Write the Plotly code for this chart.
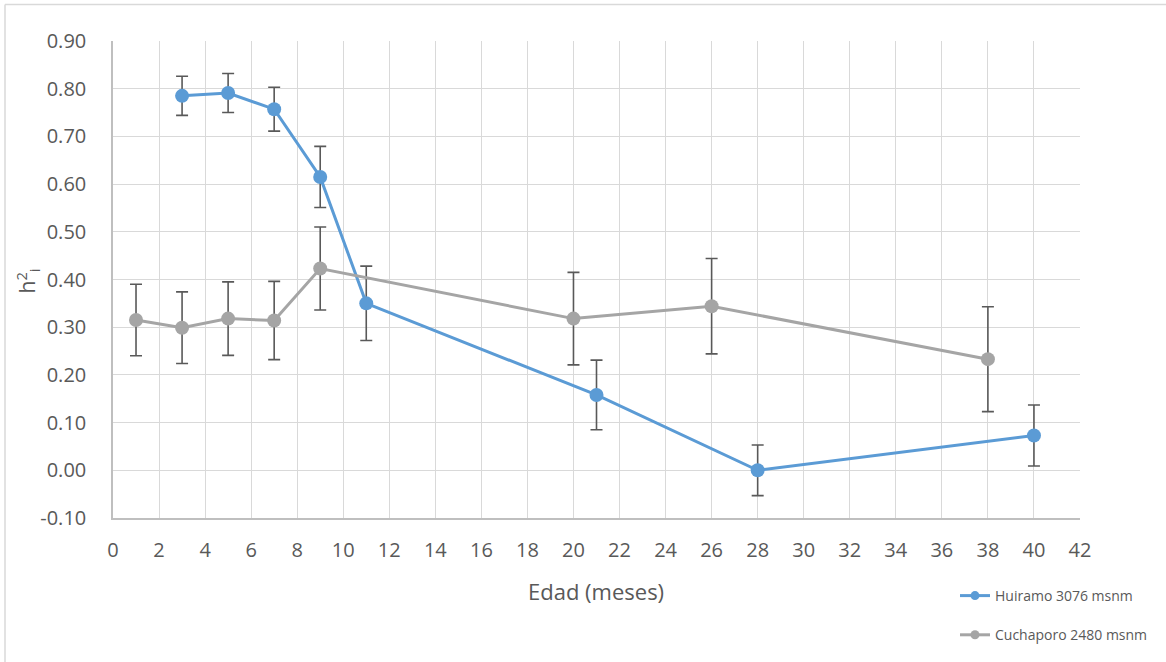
import plotly.graph_objects as go

# Data
huiramo_x = [3, 5, 7, 9, 11, 21, 28, 40]
huiramo_y = [0.785, 0.791, 0.757, 0.615, 0.350, 0.158, 0.000, 0.073]
huiramo_err = [0.041, 0.041, 0.046, 0.064, 0.078, 0.073, 0.053, 0.064]

cucha_x = [1, 3, 5, 7, 9, 20, 26, 38]
cucha_y = [0.315, 0.299, 0.318, 0.314, 0.423, 0.318, 0.344, 0.233]
cucha_err = [0.075, 0.075, 0.077, 0.082, 0.087, 0.097, 0.100, 0.110]

x_ticks = list(range(0, 43, 2))
y_ticks = [round(-0.1 + 0.1 * i, 2) for i in range(11)]
y_ticktext = ["%.2f" % v for v in y_ticks]

FONT = "Open Sans"
TXT = "#595959"
BLUE = "#5B9BD5"
GRAY = "#A5A5A5"

fig = go.Figure()
fig.add_trace(go.Scatter(
    x=huiramo_x, y=huiramo_y, mode="lines+markers", name="Huiramo 3076 msnm",
    showlegend=False,
    line=dict(color=BLUE, width=3),
    marker=dict(color=BLUE, size=14),
    error_y=dict(type="data", array=huiramo_err, color="#595959", thickness=1.6, width=6),
))
fig.add_trace(go.Scatter(
    x=cucha_x, y=cucha_y, mode="lines+markers", name="Cuchaporo 2480 msnm",
    showlegend=False,
    line=dict(color=GRAY, width=3),
    marker=dict(color=GRAY, size=14),
    error_y=dict(type="data", array=cucha_err, color="#595959", thickness=1.6, width=6),
))
# legend entries (smaller symbols, as in the reference)
fig.add_trace(go.Scatter(
    x=[None], y=[None], mode="lines+markers", name="Huiramo 3076 msnm",
    legendgroup="a", line=dict(color=BLUE, width=3), marker=dict(color=BLUE, size=9),
))
fig.add_trace(go.Scatter(
    x=[None], y=[None], mode="lines+markers", name="Cuchaporo 2480 msnm",
    legendgroup="b", line=dict(color=GRAY, width=3), marker=dict(color=GRAY, size=9),
))

W, H = 1166, 662
L, R, T, B = 113, 86, 41, 143
pw, ph = W - L - R, H - T - B

def px_x(p):
    return (p - L) / pw

def px_y(p):
    return (H - B - p) / ph

fig.update_layout(
    width=W, height=H,
    margin=dict(l=L, r=R, t=T, b=B),
    paper_bgcolor="white", plot_bgcolor="white",
    font=dict(family=FONT, color=TXT, size=20),
    showlegend=True,
    legend=dict(
        x=px_x(955), y=px_y(580), xanchor="left", yanchor="top",
        font=dict(size=14, color=TXT, family=FONT),
        traceorder="grouped", tracegroupgap=18,
        bgcolor="rgba(0,0,0,0)",
    ),
    xaxis=dict(
        range=[0, 42], tickmode="array", tickvals=x_ticks,
        showgrid=True, gridcolor="#D9D9D9", gridwidth=1.3,
        showline=True, linecolor="#BFBFBF", linewidth=1.5,
        zeroline=False, ticks="", ticklabelstandoff=13,
        tickfont=dict(size=20, color=TXT),
    ),
    yaxis=dict(
        range=[-0.1, 0.9], tickmode="array", tickvals=y_ticks, ticktext=y_ticktext,
        showgrid=True, gridcolor="#D9D9D9", gridwidth=1.3,
        showline=True, linecolor="#BFBFBF", linewidth=1.5,
        zeroline=False, ticks="", ticklabelstandoff=21,
        tickfont=dict(size=20, color=TXT),
    ),
    annotations=[
        dict(text="Edad (meses)", xref="paper", yref="paper",
             x=px_x(596), y=px_y(592), xanchor="center", yanchor="middle",
             showarrow=False, font=dict(size=22, color=TXT, family=FONT)),
        dict(text="h<sup>2</sup><sub>i</sub>", xref="paper", yref="paper",
             x=px_x(27), y=px_y(282), xanchor="center", yanchor="middle",
             textangle=-90, showarrow=False,
             font=dict(size=21, color=TXT, family=FONT)),
    ],
    shapes=[
        dict(type="line", xref="paper", yref="paper",
             x0=px_x(5), x1=px_x(1170), y0=px_y(4.5), y1=px_y(4.5),
             line=dict(color="#D9D9D9", width=1.5)),
        dict(type="line", xref="paper", yref="paper",
             x0=px_x(5), x1=px_x(5), y0=px_y(4.5), y1=px_y(670),
             line=dict(color="#D9D9D9", width=1.5)),
    ],
)

fig.write_html("out.html")
